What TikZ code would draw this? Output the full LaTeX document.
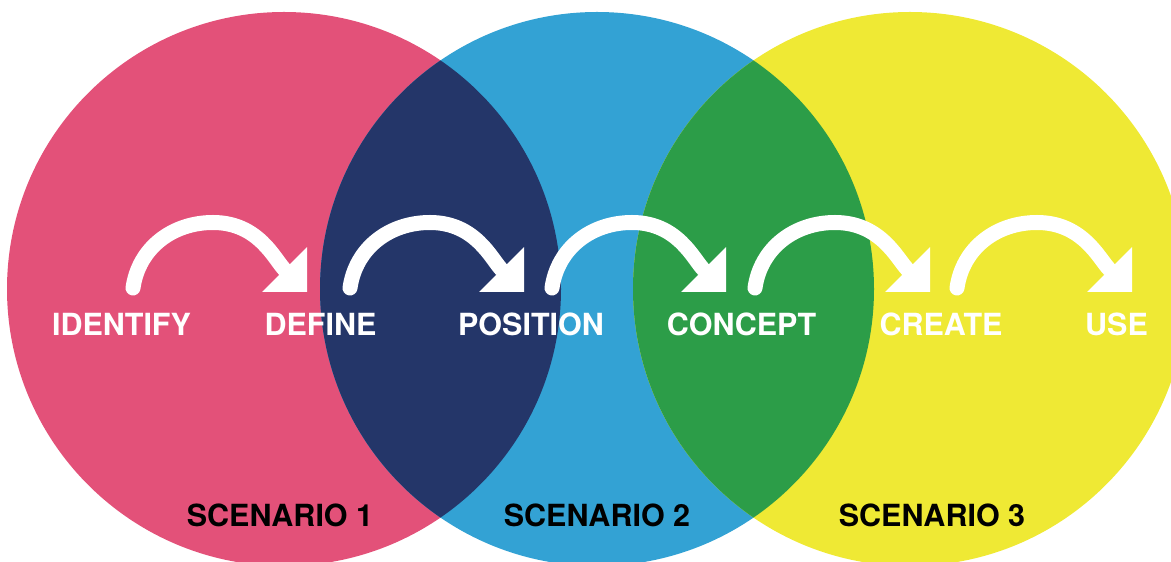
\documentclass[tikz,border=0pt]{standalone}
\usepackage{fontspec}
\setmainfont{TeX Gyre Heros}
\usetikzlibrary{arrows.meta}
\definecolor{pinkC}{RGB}{227,81,121}
\definecolor{blueC}{RGB}{51,162,212}
\definecolor{yellowC}{RGB}{239,233,52}
\definecolor{navyC}{RGB}{36,54,105}
\definecolor{greenC}{RGB}{44,157,72}

\begin{document}
\begin{tikzpicture}[x=1pt,y=1pt,
    flow/.style={white,line width=15pt,line cap=round,
      -{Triangle[length=31.8pt,width=63.6pt,line width=0pt]}},
    lbl/.style={text=white,font=\fontsize{30.5}{36}\selectfont\bfseries,
      anchor=base,inner sep=0pt},
    scen/.style={lbl,text=black}]
    \clip (0,0) rectangle (1171,562);
    \coordinate (O1) at (284,273);
    \coordinate (O2) at (597,273);
    \coordinate (O3) at (910,273);
    \fill[pinkC] (O1) circle (277pt);
    \fill[blueC] (O2) circle (277pt);
    \fill[yellowC] (O3) circle (277pt);
    % overlaps
    \begin{scope}
      \clip (O1) circle (277pt);
      \fill[navyC] (O2) circle (277pt);
    \end{scope}
    \begin{scope}
      \clip (O2) circle (277pt);
      \fill[greenC] (O3) circle (277pt);
    \end{scope}
    \node[lbl] (identify) at (121.5,226) {IDENTIFY};
    \node[lbl] (define) at (320.5,226) {DEFINE};
    \node[lbl] (position) at (531,226) {POSITION};
    \node[lbl] (concept) at (741.5,226) {CONCEPT};
    \node[lbl] (create) at (941,226) {CREATE};
    \node[lbl] (use) at (1116.5,226) {USE};
    \node[scen] (sc1) at (280,35) {SCENARIO 1};
    \node[scen] (sc2) at (597,35) {SCENARIO 2};
    \node[scen] (sc3) at (932,35) {SCENARIO 3};
    \foreach \i/\s/\t in {1/133/307,2/350/524,3/552/726,4/755/930,5/957/1132}{
      \coordinate (s\i) at (\s,274);
      \coordinate (p\i) at (\s+80,339.5);
      \coordinate (t\i) at (\t,270);
      \draw[flow] (s\i) to[out=82,in=180] (p\i) to[out=0,in=135] (t\i);
    }
\end{tikzpicture}
\end{document}
